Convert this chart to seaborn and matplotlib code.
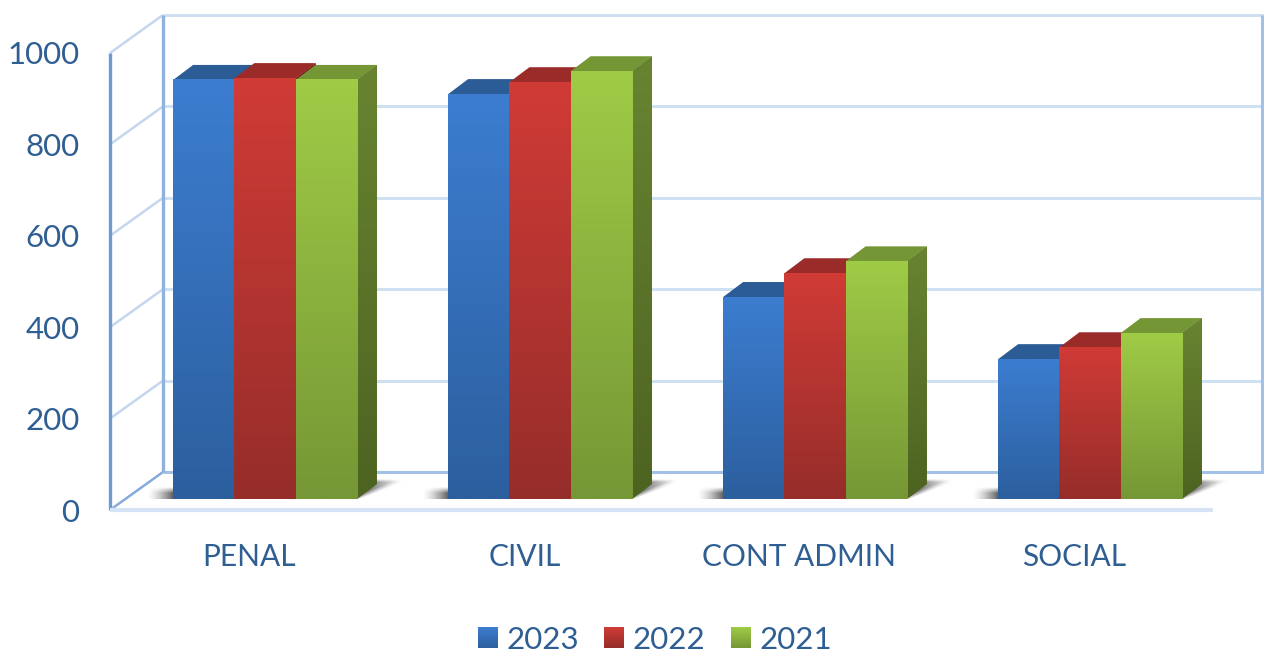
import numpy as np
import pandas as pd
import matplotlib
matplotlib.use("Agg")
import matplotlib.pyplot as plt
import seaborn as sns
from matplotlib.colors import to_rgb
from matplotlib.patches import Polygon
from matplotlib.transforms import ScaledTranslation, IdentityTransform

# values
categories = ["PENAL", "CIVIL", "CONT ADMIN", "SOCIAL"]
years = ["2023", "2022", "2021"]
values_2023 = [917, 886, 442, 306]
values_2022 = [921, 912, 494, 332]
values_2021 = [917, 936, 520, 363]
y_ticks = [0, 200, 400, 600, 800, 1000]

front_top = ["#3C7DD0", "#D03B36", "#9FCB46"]
front_bot = ["#2C5F9E", "#962D2A", "#769735"]
top_col = ["#2C5C96", "#9A2B28", "#759634"]
side_top = ["#24507F", "#80231F", "#688431"]
side_bot = ["#1D3F66", "#661C19", "#4D6321"]
text_col = "#2F5E93"

W, H = 1264, 655
px_x = 1 / 275      # one pixel in category units
px_y = 1000 / 457   # one pixel in value units


def grad(c1, c2, n=64):
    c1, c2 = np.array(to_rgb(c1)), np.array(to_rgb(c2))
    t = np.linspace(0, 1, n)[:, None, None]
    return c1 * (1 - t) + c2 * t


def right_shadow(w=48, h=20):
    # soft grey wedge, dark beside the bar, fading to the upper right
    u, v = np.meshgrid(np.arange(w) + 0.5, np.arange(h)[::-1] + 0.5)
    edge = np.clip((v - u * 0.38 + 1) / 5, 0, 1)
    top = np.clip((h - v) / 3, 0, 1)
    fade = np.clip(1 - u / w, 0, 1) ** 1.2
    img = np.zeros((h, w, 4))
    img[:, :, :3] = 0.12
    img[:, :, 3] = 0.85 * edge * top * fade
    return img


def left_shadow(w=26, h=12):
    u, v = np.meshgrid(np.arange(w)[::-1] + 0.5, np.arange(h)[::-1] + 0.5)
    img = np.zeros((h, w, 4))
    img[:, :, :3] = 0.12
    img[:, :, 3] = 0.7 * np.clip(1 - u / w, 0, 1) ** 1.5 * np.clip((h - v) / 6, 0, 1)
    return img


sns.set_style("white")
plt.rcParams["font.family"] = ["Lato", "DejaVu Sans"]

df = pd.DataFrame({
    "cat": categories * 3,
    "year": sum([[y] * 4 for y in years], []),
    "val": values_2023 + values_2022 + values_2021,
})

fig = plt.figure(figsize=(W / 100, H / 100), dpi=100)
ax = fig.add_axes([110 / W, 1 - 499 / H, (W - 110) / W, 457 / H])
sns.barplot(data=df, x="cat", y="val", hue="year", hue_order=years, order=categories,
            palette=front_top, saturation=1, width=0.668, gap=0, linewidth=0, ax=ax, zorder=3)

xlim = ((110 - 265) * px_x, (W - 265) * px_x)
ylim = (0, 1000)

# ---- walls and grid ----
x_front = xlim[0]
x_back = x_front + 53 * px_x
back_up = 27 * px_y
front_dn = -11 * px_y
x_end = (1213 - 265) * px_x
line_kw = dict(clip_on=False, solid_capstyle="butt")
for v in y_ticks:
    light = v > 0
    ax.plot([x_back, xlim[1]], [v + back_up, v + back_up], color="#CFE0F3" if light else "#A3C1E6",
            lw=2.2, zorder=1, **line_kw)
    ax.plot([x_front, x_back], [v + front_dn, v + back_up], color="#C4D7EF" if light else "#86ABDB",
            lw=1.8, zorder=1, **line_kw)
ax.plot([x_back, x_back], [back_up, 1000 + back_up], color="#8FB2DF", lw=2.4, zorder=1, **line_kw)
ax.plot([x_front, x_front], [front_dn, 1000 + front_dn], color="#6E9AD2", lw=2.4, zorder=1, **line_kw)
ax.plot([xlim[1] - 2 * px_x] * 2, [back_up, 1000 + back_up], color="#A3C1E6", lw=2.2, zorder=1, **line_kw)
ax.plot([x_front, x_end], [front_dn, front_dn], color="#D5E3F5", lw=3, zorder=1, **line_kw)

# ---- fake 3d on top of the seaborn bars ----
dx, dy = 20 * px_x, 15 * px_y
for j in range(len(categories)):
    left_x = ax.containers[0][j].get_x()
    right_b = ax.containers[-1][j]
    right_x = right_b.get_x() + right_b.get_width()

    # floor shadows
    ax.imshow(right_shadow(), extent=(right_x, right_x + 48 * px_x, 0, 20 * px_y),
              aspect="auto", zorder=2, interpolation="bilinear")
    ax.imshow(left_shadow(), extent=(left_x - 26 * px_x, left_x, 0, 12 * px_y),
              aspect="auto", zorder=2, interpolation="bilinear")

    for i, cont in enumerate(ax.containers):
        b = cont[j]
        x0, w, h = b.get_x(), b.get_width(), b.get_height()
        x1 = x0 + w
        z = 3 + j + i * 0.1
        side = Polygon([(x1, 0), (x1 + dx, dy), (x1 + dx, h + dy), (x1, h)],
                       fc=side_bot[i], ec="none", zorder=z)
        ax.add_patch(side)
        im = ax.imshow(grad(side_top[i], side_bot[i]), extent=(x1, x1 + dx, 0, h + dy),
                       aspect="auto", zorder=z, interpolation="bilinear")
        im.set_clip_path(side)
        ax.add_patch(Polygon([(x0, h), (x0 + dx, h + dy), (x1 + dx, h + dy), (x1, h)],
                             fc=top_col[i], ec="none", zorder=z + 0.01))
        b.set_zorder(z + 0.02)
        ax.imshow(grad(front_top[i], front_bot[i]), extent=(x0, x1, 0, h),
                  aspect="auto", zorder=z + 0.03, interpolation="bilinear")

# ---- axes text ----
ax.set_xlim(xlim)
ax.set_ylim(ylim)
ax.set_xlabel("")
ax.set_ylabel("")
ax.set_yticks(y_ticks)
ax.tick_params(axis="y", length=0, pad=22, labelsize=22.5, labelcolor=text_col)
ax.tick_params(axis="x", length=0, pad=32, labelsize=21.5, labelcolor=text_col)
for s in ax.spines.values():
    s.set_visible(False)
ax.patch.set_alpha(0)
for lab in ax.get_yticklabels():
    lab.set_transform(lab.get_transform() + ScaledTranslation(0, -11 / 100, fig.dpi_scale_trans))
for lab in ax.get_xticklabels():
    lab.set_transform(lab.get_transform() + ScaledTranslation(-15.5 / 100, 0, fig.dpi_scale_trans))

leg = ax.legend(loc="center", bbox_to_anchor=(655 / W, 1 - 640 / H), bbox_transform=fig.transFigure,
                ncol=3, frameon=False, fontsize=22.5, labelcolor=text_col, title=None,
                handlelength=0.62, handleheight=0.62, handletextpad=0.3, columnspacing=0.8,
                borderpad=0, borderaxespad=0)

# gradient on the legend keys
fig.canvas.draw()
for i, hd in enumerate(leg.legend_handles):
    bb = hd.get_window_extent()
    im = ax.imshow(grad(front_top[i], front_bot[i]), extent=(bb.x0, bb.x1, bb.y0, bb.y1),
                   transform=IdentityTransform(), aspect="auto", zorder=10, clip_on=False,
                   interpolation="bilinear")
ax.set_xlim(xlim)
ax.set_ylim(ylim)

fig.savefig("out.png", dpi=100, facecolor="white")
